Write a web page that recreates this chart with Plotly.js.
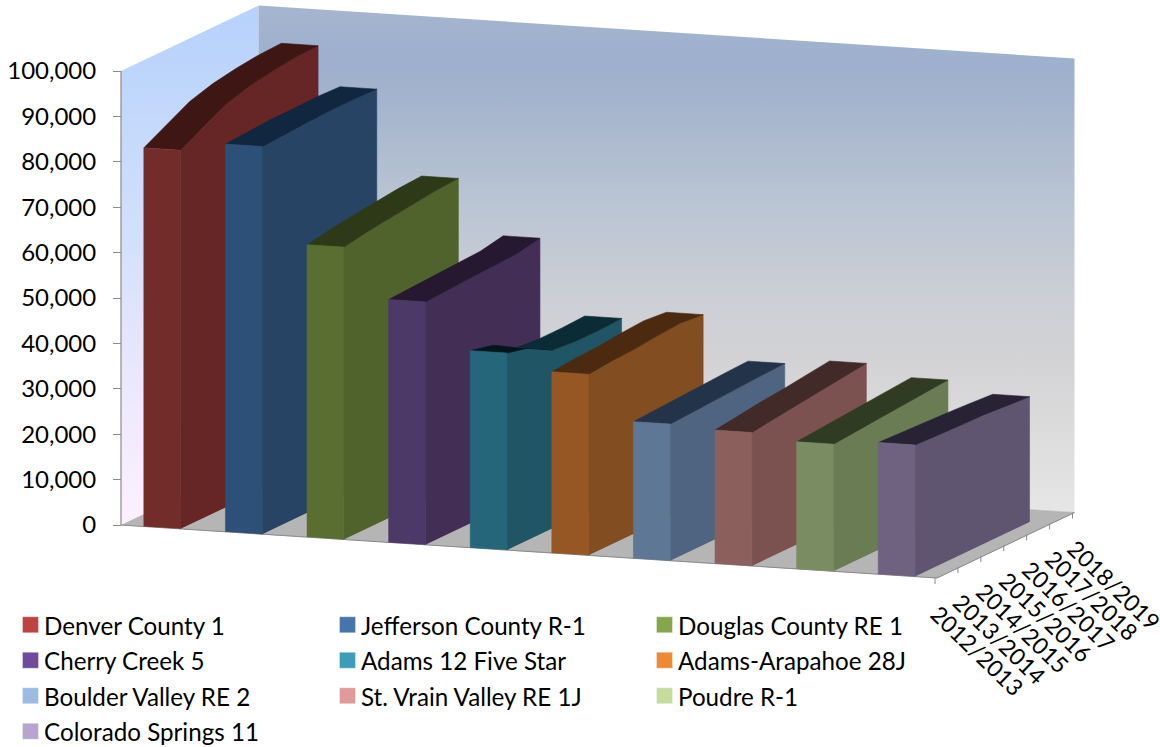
<!DOCTYPE html>
<html>
<head>
<meta charset="utf-8">
<script src="https://cdn.plot.ly/plotly-3.0.1.min.js"></script>
<style>
html,body{margin:0;padding:0;background:#fff;}
#chart{width:1160px;height:747px;}
.legend .legendtext{transform:translateX(-6.5px);}
</style>
</head>
<body>
<div id="chart"></div>
<script>
// ---- data ----
const categories = ['2012/2013','2013/2014','2014/2015','2015/2016','2016/2017','2017/2018','2018/2019'];
const seriesNames = ['Denver County 1','Jefferson County R-1','Douglas County RE 1','Cherry Creek 5','Adams 12 Five Star','Adams-Arapahoe 28J','Boulder Valley RE 2','St. Vrain Valley RE 1J','Poudre R-1','Colorado Springs 11'];
const denver    = [83400,86000,88800,90300,91200,91800,92000];
const jefferson = [85400,85700,86050,86050,86200,86000];
const douglas   = [64400,65300,66000,66600,67200,67500];
const cherry    = [53500,53800,54100,54250,54500,55500];
const adams12   = [43400,42200,39250,38770,38770,39000];
const adams28   = [39900,40400,40600,41150,41500,41000];
const boulder   = [30100,30400,30700,30900,31200,31400];
const stVrain   = [29400,30100,30800,31300,32000,32600];
const poudre    = [28000,28400,28800,29200,29700,30100];
const coSprings = [29000,28800,28500,28300,28000,27600];
const tickValues = [0,10000,20000,30000,40000,50000,60000,70000,80000,90000,100000];
const tickLabels = ['0','10,000','20,000','30,000','40,000','50,000','60,000','70,000','80,000','90,000','100,000'];
const allSeries = [denver,jefferson,douglas,cherry,adams12,adams28,boulder,stVrain,poudre,coSprings];

const legendColors = ['#BD4340','#4575AB','#84A849','#6E4C9B','#3C9DB8','#EE8A33','#9BBCE0','#E09A9A','#C6DC9D','#B7A5CF'];
const frontColors  = ['#722D2B','#2D5079','#5A6E32','#4D3968','#25667A','#965724','#5E7795','#8A5F5C','#7A8C62','#6F6280'];
const sideColors   = ['#652625','#274464','#50632C','#432F55','#1F5565','#824E21','#4F6480','#7B5250','#6A7C54','#5F5570'];
const topColors    = ['#3E1714','#11263F','#2E3A17','#251830','#0B2C36','#4B2A0F','#23334A','#422A28','#2F3B22','#272335'];
const darkTopAdams = '#03161C';

// ---- oblique projection of (series position, depth, value) onto the axes ----
const pxPerUnit = 454/100000, originX = 121, originY = 525;
const stepX = 81.6, stepY = 5.3, depthX = 137.5, depthY = 65.5;
const px = (s,d) => originX + stepX*s + depthX*d;
const py = (s,d,v) => v + (depthY*d - stepY*s)/pxPerUnit;
const depthOf = j => j/6;
const barL = 0.28, barR = 0.73;

const traces = [];
function poly(pts, color, extra){
  traces.push(Object.assign({
    type:'scatter', mode:'lines', x:pts.map(p=>px(p[0],p[1])), y:pts.map(p=>py(p[0],p[1],p[2])),
    fill:'toself', fillcolor:color, line:{width:0.6,color:color}, hoverinfo:'skip', showlegend:false
  }, extra||{}));
}
function edge(pts, color, width){
  traces.push({type:'scatter',mode:'lines',x:pts.map(p=>px(p[0],p[1])),y:pts.map(p=>py(p[0],p[1],p[2])),
    line:{width:width||1,color:color},hoverinfo:'skip',showlegend:false});
}
const yPix = p => (originY-p)/pxPerUnit;

// walls and floor
poly([[0,0,0],[0,0,100000],[0,1,100000],[0,1,0]],'#dfe8fb',{line:{width:0},
  fillgradient:{type:'vertical',start:yPix(525),stop:yPix(5),
    colorscale:[[0,'#FDF0FE'],[0.25,'#EDE9FD'],[0.6,'#CFDFFB'],[1,'#B6D1FB']]}});
poly([[0,1,0],[0,1,100000],[10,1,100000],[10,1,0]],'#cccccc',{line:{width:0},
  fillgradient:{type:'vertical',start:yPix(513),stop:yPix(5),
    colorscale:[[0,'#E6E6E6'],[0.3,'#D3D3D5'],[0.42,'#CCCFD5'],[0.62,'#B9C4D3'],[0.81,'#A5B4CD'],[0.89,'#9DB0CD'],[1,'#A6B5CF']]}});
poly([[0,0,0],[10,0,0],[10,1,0],[0,1,0]],'#B5B5B5');
edge([[0,0,0],[10,0,0],[10,1,0]],'#8A8A8A',1);
edge([[0,0,0],[0,0,100000]],'#8A8A8A',1.2);

// depth-axis ticks and labels
const annotations = categories.map((c,j)=>({
  xref:'x',yref:'y',x:px(10,depthOf(j))+40,y:py(10,depthOf(j),0)-72/pxPerUnit,
  text:c,showarrow:false,textangle:44,xanchor:'center',yanchor:'middle',
  font:{family:'Lato',size:23,color:'#000'}
}));
categories.forEach((c,j)=>{
  const X=px(10,depthOf(j)), Y=py(10,depthOf(j),0);
  traces.push({type:'scatter',mode:'lines',x:[X-2,X-2],y:[Y,Y-6/pxPerUnit],line:{width:1,color:'#8A8A8A'},hoverinfo:'skip',showlegend:false});
});

// series, drawn from the far left to the near right
allSeries.forEach((vals,i)=>{
  const sL=i+barL, sR=i+barR, n=vals.length;
  // right side
  const side=[[sR,0,0]];
  vals.forEach((v,j)=>side.push([sR,depthOf(j),v]));
  side.push([sR,depthOf(n-1),0]);
  poly(side,sideColors[i]);
  // top surface: one polygon per run of intervals with the same shade
  let start=0;
  for(let j=0;j<n-1;j++){
    const dark = vals[j]-vals[j+1]>500;
    const nextDark = j+1<n-1 && vals[j+1]-vals[j+2]>500;
    if(j===n-2 || dark!==nextDark){
      const pts=[];
      for(let k=start;k<=j+1;k++) pts.push([sL,depthOf(k),vals[k]]);
      for(let k=j+1;k>=start;k--) pts.push([sR,depthOf(k),vals[k]]);
      poly(pts,dark?darkTopAdams:topColors[i]);
      start=j+1;
    }
  }
  // front
  poly([[sL,0,0],[sL,0,vals[0]],[sR,0,vals[0]],[sR,0,0]],frontColors[i]);
});

// legend entries
seriesNames.forEach((name,i)=>{
  traces.push({type:'scatter',mode:'markers',x:[null],y:[null],
    name:'<span style="font-size:24.2px">'+name+'</span>',
    marker:{symbol:'square',size:16,color:legendColors[i],line:{width:1,color:'rgba(255,255,255,0.35)'}},
    hoverinfo:'skip',showlegend:true});
});

const layout = {
  width:1160,height:747,
  margin:{l:0,r:0,t:0,b:0,pad:0,autoexpand:false},
  paper_bgcolor:'#fff',plot_bgcolor:'#fff',
  showlegend:true,
  xaxis:{visible:false,range:[0,1160],fixedrange:true},
  yaxis:{range:[yPix(747),yPix(0)],anchor:'free',position:121/1160,side:'left',
    showgrid:false,zeroline:false,showline:false,
    tickmode:'array',tickvals:tickValues,ticktext:tickLabels,
    ticks:'outside',ticklen:8,tickwidth:1,tickcolor:'#8A8A8A',ticklabelstandoff:12,
    tickfont:{family:'Lato',size:24,color:'#000'},fixedrange:true},
  legend:{orientation:'h',x:10.5/1160,xanchor:'left',y:(747-602)/747,yanchor:'top',
    entrywidth:272,entrywidthmode:'pixels',traceorder:'normal',itemsizing:'trace',
    bgcolor:'rgba(0,0,0,0)',borderwidth:0,
    font:{family:'Lato',size:25,color:'#000'}},
  annotations:annotations
};
Plotly.newPlot('chart',traces,layout,{displayModeBar:false,responsive:false});
</script>
</body>
</html>
